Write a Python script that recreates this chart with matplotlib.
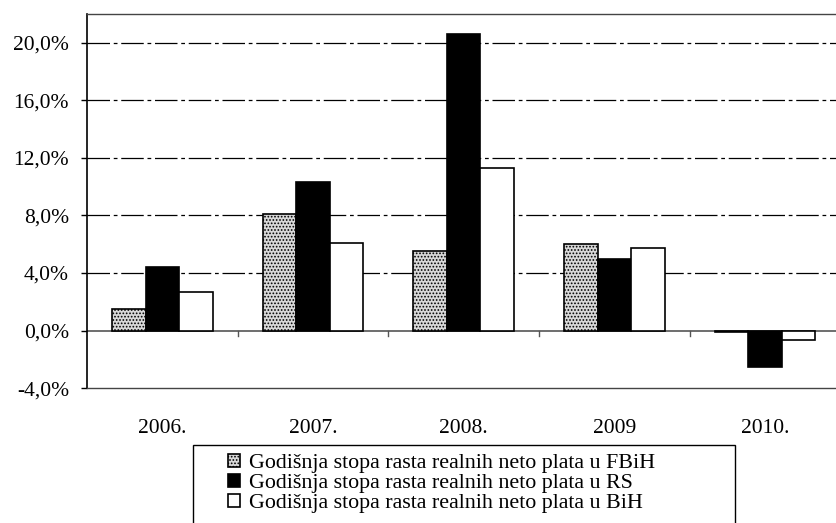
import matplotlib.pyplot as plt
from matplotlib.patches import Rectangle
import numpy as np

# podaci ocitani sa grafika (%)
godine = ['2006.', '2007.', '2008.', '2009', '2010.']
fbih = [1.5, 8.1, 5.5, 6.0, -0.1]
rs = [4.4, 10.3, 20.6, 5.0, -2.55]
bih = [2.7, 6.1, 11.3, 5.75, -0.65]
oznake = ['Godišnja stopa rasta realnih neto plata u FBiH',
          'Godišnja stopa rasta realnih neto plata u RS',
          'Godišnja stopa rasta realnih neto plata u BiH']
y_ticks = [-4, 0, 4, 8, 12, 16, 20]

plt.rcParams['font.family'] = ['Liberation Serif', 'DejaVu Serif']
plt.rcParams['hatch.color'] = '#7a7a7a'
plt.rcParams['hatch.linewidth'] = 0.8

fig = plt.figure(figsize=(8.37, 5.23), dpi=100)
ax = fig.add_axes([0.104, 0.258, 0.9, 0.715])

x = np.arange(1, len(godine) + 1)
w = 1 / 4.5
ax.bar(x - w, fbih, w, color='#d8d8d8', edgecolor='black', hatch='.....', linewidth=1.2, label=oznake[0], zorder=3)
ax.bar(x, rs, w, color='black', edgecolor='black', linewidth=1.2, label=oznake[1], zorder=3)
ax.bar(x + w, bih, w, color='white', edgecolor='black', linewidth=1.2, label=oznake[2], zorder=3)

ax.set_xlim(0.5, len(godine) + 0.5)
ax.set_ylim(-4, 22)

# horizontalne linije mreze
for t in y_ticks[2:]:
    ax.axhline(t, color='black', lw=0.9, ls=(0, (18, 3, 3, 3)), zorder=1)
ax.axhline(0, color='#555555', lw=1.2, zorder=2)
# crtice izmedju kategorija
for b in np.arange(1.5, len(godine)):
    ax.plot([b, b], [0, -0.35], color='#555555', lw=1.0, zorder=2)

ax.set_yticks(y_ticks)
ax.set_yticklabels([f'{t:.1f}%'.replace('.', ',') for t in y_ticks], fontsize=15.5)
ax.tick_params(axis='y', length=4, width=1, direction='out', pad=9)
ax.set_xticks(x)
ax.set_xticklabels(godine, fontsize=15.5)
ax.tick_params(axis='x', length=0, pad=22)

ax.spines['right'].set_visible(False)
ax.spines['left'].set_linewidth(1.2)
for s in ['top', 'bottom']:
    ax.spines[s].set_linestyle((0, (1, 1)))
    ax.spines[s].set_color('#444444')
    ax.spines[s].set_linewidth(1.0)

# okvir legende (donji dio odsjecen kao na originalu)
fig.patches.append(Rectangle((0.231, -0.05), 0.647, 0.199, transform=fig.transFigure,
                             fill=False, edgecolor='black', lw=1.0))
leg = fig.legend(loc='upper left', bbox_to_anchor=(0.272, 0.132), fontsize=15.8,
                 frameon=False, handlelength=0.55, handleheight=0.55, handletextpad=0.4,
                 labelspacing=0.03, borderpad=0, borderaxespad=0)

plt.savefig('out.png', dpi=100)
